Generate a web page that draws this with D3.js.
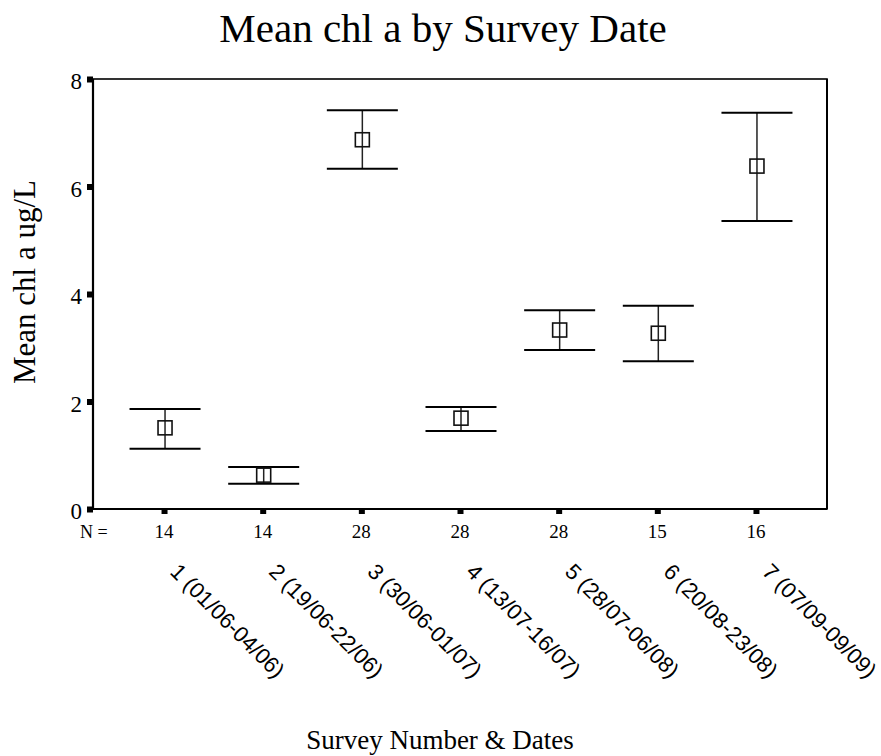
<!DOCTYPE html>
<html>
<head>
<meta charset="utf-8">
<script src="https://cdn.jsdelivr.net/npm/d3@7"></script>
<style>
  html, body { margin: 0; padding: 0; background: #fff; }
  svg { display: block; }
</style>
</head>
<body>
<svg id="chart" width="881" height="756"></svg>
<script>
// Survey categories, group sizes and chlorophyll a summary (mean with 95% CI)
const surveys = ["1 (01/06-04/06)", "2 (19/06-22/06)", "3 (30/06-01/07)", "4 (13/07-16/07)",
                 "5 (28/07-06/08)", "6 (20/08-23/08)", "7 (07/09-09/09)"];
const counts = [14, 14, 28, 28, 28, 15, 16];
const means = [1.51, 0.63, 6.87, 1.69, 3.33, 3.27, 6.38];
const upper = [1.86, 0.78, 7.42, 1.90, 3.70, 3.78, 7.37];
const lower = [1.12, 0.47, 6.33, 1.45, 2.96, 2.75, 5.36];
const yTicks = [0, 2, 4, 6, 8];

const svg = d3.select("#chart");
const plotLeft = 93, plotRight = 827, plotTop = 79, plotBottom = 509;
const serif = "'Liberation Serif', 'Times New Roman', serif";
const sans = "'Liberation Sans', Arial, sans-serif";

const x = d3.scalePoint().domain(surveys).range([plotLeft, plotRight]).padding(0.72);
const y = d3.scaleLinear().domain([0, 8]).range([plotBottom, plotTop]);

// Title
svg.append("text")
  .attr("x", 443).attr("y", 42)
  .attr("text-anchor", "middle")
  .attr("font-family", serif).attr("font-size", 41)
  .text("Mean chl a by Survey Date");

// Plot frame
svg.append("rect")
  .attr("x", plotLeft).attr("y", plotTop)
  .attr("width", plotRight - plotLeft).attr("height", plotBottom - plotTop)
  .attr("fill", "none").attr("stroke", "#000").attr("stroke-width", 1.6);
svg.append("line").attr("x1", plotLeft).attr("x2", plotLeft).attr("y1", plotTop).attr("y2", plotBottom)
  .attr("stroke", "#000").attr("stroke-width", 2.2);
svg.append("line").attr("x1", plotLeft).attr("x2", plotRight).attr("y1", plotBottom).attr("y2", plotBottom)
  .attr("stroke", "#000").attr("stroke-width", 2.2);
svg.append("line").attr("x1", plotRight).attr("x2", plotRight).attr("y1", plotTop).attr("y2", plotBottom)
  .attr("stroke", "#000").attr("stroke-width", 2);

// Y axis: square tick markers with labels
const yAxis = d3.axisLeft(y).tickValues(yTicks).tickSize(0).tickPadding(11).tickFormat(d3.format("d"));
const gy = svg.append("g").attr("transform", `translate(${plotLeft},0)`).call(yAxis);
gy.select(".domain").remove();
gy.selectAll(".tick text")
  .attr("font-family", serif).attr("font-size", 23).attr("fill", "#000")
  .attr("dy", "0.42em");
gy.selectAll(".tick").append("rect")
  .attr("x", -6).attr("y", -3).attr("width", 6).attr("height", 6).attr("fill", "#000");

// X axis: square tick markers below the baseline
const xAxis = d3.axisBottom(x).tickSize(0).tickFormat("");
const gx = svg.append("g").attr("transform", `translate(0,${plotBottom})`).call(xAxis);
gx.select(".domain").remove();
gx.selectAll(".tick").append("rect")
  .attr("x", -3).attr("y", 0).attr("width", 6).attr("height", 5).attr("fill", "#000");

// Group sizes row
svg.append("text")
  .attr("x", 80).attr("y", 538)
  .attr("font-family", serif).attr("font-size", 18)
  .text("N =");
svg.selectAll("text.count").data(surveys).join("text")
  .attr("class", "count")
  .attr("x", d => x(d)).attr("y", 538)
  .attr("text-anchor", "middle")
  .attr("font-family", serif).attr("font-size", 19)
  .text((d, i) => counts[i]);

// Rotated category labels
svg.selectAll("text.cat").data(surveys).join("text")
  .attr("class", "cat")
  .attr("transform", d => `translate(${x(d) + 5},573) rotate(45)`)
  .attr("font-family", sans).attr("font-size", 22)
  .text(d => d);

// Y axis title
svg.append("text")
  .attr("transform", `translate(35,282) rotate(-90)`)
  .attr("text-anchor", "middle")
  .attr("font-family", serif).attr("font-size", 31)
  .text("Mean chl a ug/L");

// X axis title
svg.append("text")
  .attr("x", 440).attr("y", 749)
  .attr("text-anchor", "middle")
  .attr("font-family", serif).attr("font-size", 27)
  .text("Survey Number & Dates");

// Error bars with mean markers
const capHalf = 35.5;
const bars = svg.append("g").selectAll("g").data(surveys).join("g")
  .attr("transform", d => `translate(${x(d) + 1},0)`);
bars.append("line")
  .attr("x1", 0).attr("x2", 0)
  .attr("y1", (d, i) => y(upper[i])).attr("y2", (d, i) => y(lower[i]))
  .attr("stroke", "#222").attr("stroke-width", 1.5);
bars.append("line")
  .attr("x1", -capHalf).attr("x2", capHalf)
  .attr("y1", (d, i) => y(upper[i])).attr("y2", (d, i) => y(upper[i]))
  .attr("stroke", "#000").attr("stroke-width", 2);
bars.append("line")
  .attr("x1", -capHalf).attr("x2", capHalf)
  .attr("y1", (d, i) => y(lower[i])).attr("y2", (d, i) => y(lower[i]))
  .attr("stroke", "#000").attr("stroke-width", 2);
bars.append("rect")
  .attr("x", -7).attr("y", (d, i) => y(means[i]) - 7)
  .attr("width", 14).attr("height", 14)
  .attr("fill", "none").attr("stroke", "#111").attr("stroke-width", 1.6);
</script>
</body>
</html>
